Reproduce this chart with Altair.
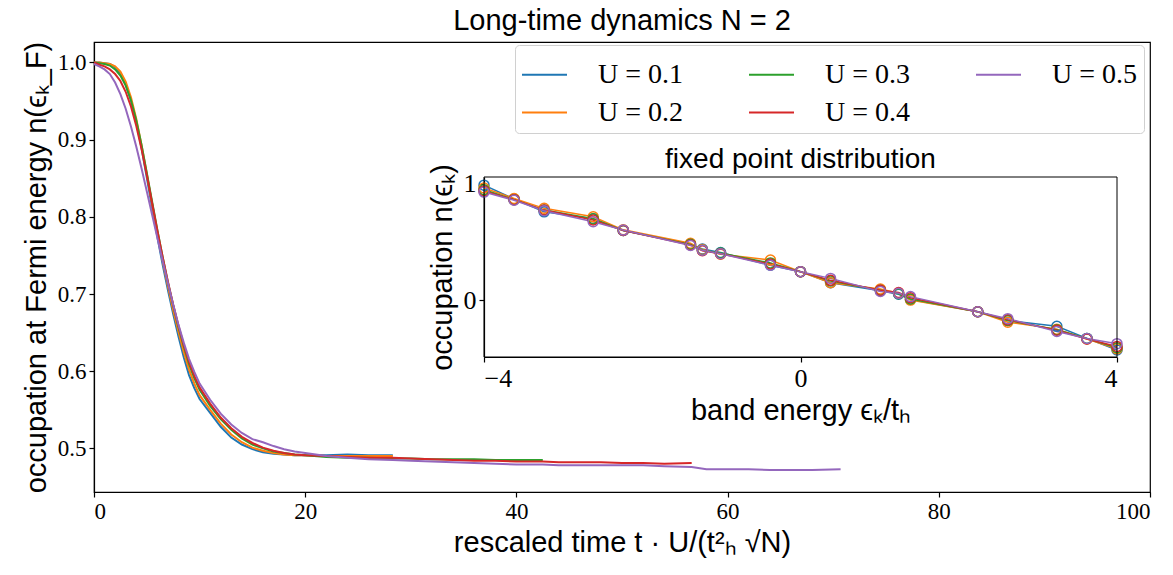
import altair as alt
import pandas as pd

# ---------------- data: main panel (long-time dynamics) ----------------
SERIES = ["U = 0.1", "U = 0.2", "U = 0.3", "U = 0.4", "U = 0.5"]
COLORS = ["#1f77b4", "#ff7f0e", "#2ca02c", "#d62728", "#9467bd"]

t_base = [0, 0.5, 1, 1.5, 2, 2.5, 3, 3.5, 4, 4.5, 5, 5.5, 6, 6.5, 7, 7.5, 8, 8.5, 9, 9.5,
          10, 11, 12, 13, 14, 15, 16, 17, 18, 19, 20, 22, 24, 26, 28.3]
t_ext_green = [30, 32, 34, 36, 38, 40, 42.5]
t_ext_red = [44, 46, 48, 50, 52, 54, 56.6]
t_ext_purple = [58, 60, 62, 64, 66, 68, 70.7]

t_u01 = t_base
t_u02 = t_base
t_u03 = t_base + t_ext_green
t_u04 = t_base + t_ext_green + t_ext_red
t_u05 = t_base + t_ext_green + t_ext_red + t_ext_purple

n_u01 = [1.000, 1.000, 0.999, 0.998, 0.994, 0.986, 0.972, 0.951, 0.923, 0.889, 0.851, 0.812,
         0.774, 0.738, 0.705, 0.674, 0.645, 0.618, 0.595, 0.578, 0.564, 0.546, 0.528, 0.514,
         0.505, 0.499, 0.495, 0.493, 0.492, 0.491, 0.491, 0.491, 0.492, 0.491, 0.491]
n_u02 = [1.000, 1.000, 0.999, 0.998, 0.995, 0.988, 0.975, 0.955, 0.927, 0.893, 0.856, 0.817,
         0.779, 0.743, 0.710, 0.679, 0.651, 0.625, 0.602, 0.584, 0.569, 0.550, 0.532, 0.518,
         0.508, 0.501, 0.497, 0.494, 0.492, 0.491, 0.491, 0.490, 0.490, 0.490, 0.490]
n_u03 = [1.000, 0.999, 0.998, 0.996, 0.991, 0.983, 0.970, 0.951, 0.925, 0.893, 0.857, 0.820,
         0.783, 0.748, 0.715, 0.685, 0.657, 0.632, 0.609, 0.591, 0.576, 0.555, 0.538, 0.524,
         0.513, 0.505, 0.500, 0.496, 0.494, 0.492, 0.491, 0.489, 0.488, 0.488, 0.487,
         0.487, 0.486, 0.486, 0.486, 0.485, 0.485, 0.485]
n_u04 = [1.000, 0.997, 0.995, 0.991, 0.985, 0.976, 0.962, 0.943, 0.918, 0.888, 0.854, 0.818,
         0.782, 0.748, 0.716, 0.686, 0.659, 0.634, 0.612, 0.594, 0.579, 0.558, 0.540, 0.526,
         0.515, 0.507, 0.501, 0.497, 0.494, 0.492, 0.491, 0.490, 0.489, 0.488, 0.488,
         0.487, 0.486, 0.485, 0.484, 0.484, 0.483, 0.483,
         0.482, 0.482, 0.482, 0.481, 0.481, 0.480, 0.481]
n_u05 = [0.998, 0.995, 0.991, 0.985, 0.974, 0.959, 0.940, 0.917, 0.891, 0.863, 0.833, 0.803,
         0.773, 0.743, 0.714, 0.686, 0.660, 0.637, 0.616, 0.599, 0.584, 0.563, 0.545, 0.531,
         0.520, 0.512, 0.508, 0.503, 0.499, 0.496, 0.494, 0.490, 0.488, 0.486, 0.485,
         0.484, 0.483, 0.482, 0.481, 0.480, 0.479, 0.479,
         0.478, 0.478, 0.478, 0.478, 0.478, 0.477, 0.476,
         0.473, 0.473, 0.473, 0.472, 0.472, 0.472, 0.473]

# ---------------- data: inset (fixed point distribution) ----------------
eps = [-4, -3.62, -3.24, -2.62, -2.24, -1.39, -1.24, -1.01, -0.38, 0,
       0.38, 1.01, 1.24, 1.39, 2.24, 2.62, 3.24, 3.62, 4]
occ_u01 = [0.99, 0.87, 0.76, 0.70, 0.60, 0.48, 0.44, 0.41, 0.30, 0.245,
           0.15, 0.08, 0.05, 0.005, -0.10, -0.175, -0.225, -0.33, -0.43]
occ_u02 = [0.965, 0.875, 0.79, 0.718, 0.605, 0.49, 0.435, 0.395, 0.345, 0.244,
           0.15, 0.095, 0.06, 0.0, -0.10, -0.19, -0.25, -0.335, -0.42]
occ_u03 = [0.95, 0.865, 0.775, 0.70, 0.60, 0.48, 0.43, 0.405, 0.32, 0.245,
           0.165, 0.085, 0.055, 0.01, -0.10, -0.175, -0.255, -0.33, -0.41]
occ_u04 = [0.94, 0.865, 0.775, 0.69, 0.60, 0.475, 0.425, 0.40, 0.31, 0.244,
           0.17, 0.085, 0.065, 0.02, -0.10, -0.17, -0.26, -0.335, -0.40]
occ_u05 = [0.93, 0.86, 0.77, 0.675, 0.603, 0.47, 0.43, 0.40, 0.30, 0.244,
           0.187, 0.075, 0.058, 0.03, -0.10, -0.16, -0.27, -0.33, -0.375]

# inset frame / title anchors (data units of the inset)
INSET_X = [-4, 4]
INSET_Y = [-0.49, 1.06]
INSET_TITLE = "fixed point distribution"

# ---------------- tables ----------------
main_rows = []
for lab, ts, ns in zip(SERIES, [t_u01, t_u02, t_u03, t_u04, t_u05],
                       [n_u01, n_u02, n_u03, n_u04, n_u05]):
    for t, n in zip(ts, ns):
        main_rows.append({"t": t, "n": n, "U": lab})
df_main = pd.DataFrame(main_rows)

inset_rows = []
for lab, occ in zip(SERIES, [occ_u01, occ_u02, occ_u03, occ_u04, occ_u05]):
    for e, o in zip(eps, occ):
        inset_rows.append({"eps": e, "occ": o, "U": lab})
df_inset = pd.DataFrame(inset_rows)

df_one = pd.DataFrame({"x0": [INSET_X[0]], "x1": [INSET_X[1]],
                       "y0": [INSET_Y[0]], "y1": [INSET_Y[1]],
                       "tx": [0.0], "ty": [1.21], "label": [INSET_TITLE]})

W, H = 1056, 450
SERIF = "Liberation Serif"
SANS = "Liberation Sans"
TFS = 29

color = alt.Color(
    "U:N",
    scale=alt.Scale(domain=SERIES, range=COLORS),
    legend=alt.Legend(
        title=None, orient="none", legendX=421, legendY=3, columns=3,
        symbolType="stroke", symbolSize=2025, symbolStrokeWidth=2,
        labelFont=SERIF, labelFontSize=28, labelOffset=30, labelColor="black",
        columnPadding=61, rowPadding=-9, padding=6,
        fillColor="white", strokeColor="#d0d0d0", cornerRadius=4,
    ),
)

x_main = alt.X(
    "t:Q",
    scale=alt.Scale(domain=[0, 100], nice=False),
    axis=alt.Axis(values=[0, 20, 40, 60, 80, 100], format="d",
                  title="rescaled time t · U/(t²ₕ √N)", titlePadding=5),
)
y_main = alt.Y(
    "n:Q",
    scale=alt.Scale(domain=[0.4435, 1.0265], nice=False, zero=False),
    axis=alt.Axis(values=[0.5, 0.6, 0.7, 0.8, 0.9, 1.0], format=".1f",
                  title="occupation at Fermi energy n(ϵₖ_F)", titlePadding=6),
)

main = alt.Chart(df_main).mark_line(strokeWidth=2).encode(
    x=x_main, y=y_main, color=color
)

# inset scales occupy a sub-rectangle of the plot area
xs_in = alt.Scale(domain=INSET_X, range=[390, 1023], nice=False)
ys_in = alt.Scale(domain=INSET_Y, range=[315, 135], nice=False, zero=False)

x_in = alt.X("eps:Q", scale=xs_in,
             axis=alt.Axis(orient="bottom", offset=-(H - 315), values=[-4, 0, 4],
                           format="d", title="band energy ϵₖ/tₕ", titlePadding=5,
                           labelFontSize=26))
y_in = alt.Y("occ:Q", scale=ys_in,
             axis=alt.Axis(orient="left", offset=-390, values=[0, 1], format="d",
                           title="occupation n(ϵₖ)", titlePadding=6, labelFontSize=26))

inset_lines = alt.Chart(df_inset).mark_line(strokeWidth=1.5).encode(
    x=x_in, y=y_in, color=color
)
inset_pts = alt.Chart(df_inset).mark_point(filled=False, size=100, strokeWidth=1.5, opacity=1).encode(
    x=alt.X("eps:Q", scale=xs_in), y=alt.Y("occ:Q", scale=ys_in), color=color
)
frame = alt.Chart(df_one).mark_rect(fillOpacity=0, stroke="black", strokeWidth=1).encode(
    x=alt.X("x0:Q", scale=xs_in), x2="x1:Q",
    y=alt.Y("y0:Q", scale=ys_in), y2="y1:Q",
)
inset_title = alt.Chart(df_one).mark_text(
    font=SANS, fontSize=28, baseline="middle", align="center", color="black"
).encode(
    x=alt.X("tx:Q", scale=xs_in), y=alt.Y("ty:Q", scale=ys_in), text="label:N"
)

inset = alt.layer(inset_lines, inset_pts, frame, inset_title)

chart = alt.layer(main, inset).resolve_scale(
    x="independent", y="independent"
).properties(
    width=W, height=H,
    autosize=alt.AutoSizeParams(type="none"),
    padding={"left": 94, "top": 42, "right": 23, "bottom": 83},
    title=alt.TitleParams("Long-time dynamics N = 2", font=SANS, fontSize=TFS,
                          fontWeight="normal", anchor="middle", offset=5, color="black"),
    background="white",
).configure_view(
    stroke="black", strokeWidth=1.2
).configure_axis(
    grid=False, domainColor="black", domainWidth=1.2, tickColor="black", tickSize=5,
    tickWidth=1.2, labelFont=SERIF, labelFontSize=23, labelColor="black", labelPadding=3,
    titleFont=SANS, titleFontSize=TFS, titleFontWeight="normal", titleColor="black",
)

chart.save("out.html", embed_options={"renderer": "svg", "actions": False})
